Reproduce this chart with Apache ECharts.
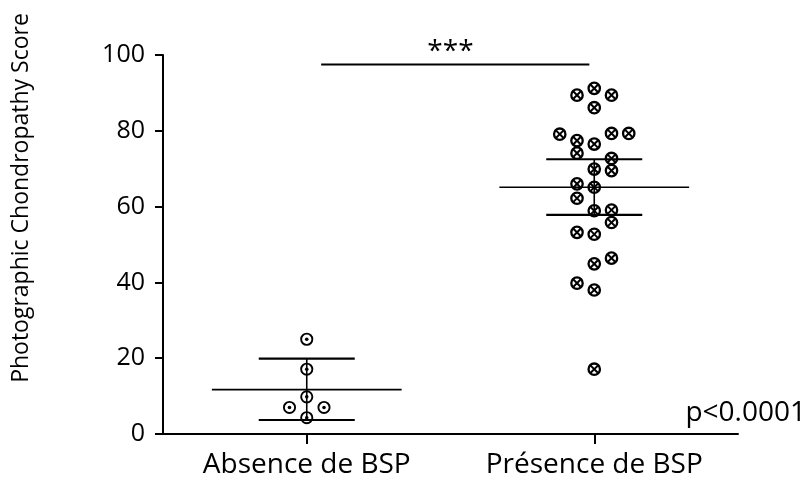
<!DOCTYPE html>
<html>
<head>
<meta charset="utf-8">
<script src="https://cdn.jsdelivr.net/npm/echarts@6/dist/echarts.min.js"></script>
<style>
  html, body { margin: 0; padding: 0; background: #fff; }
  #chart { width: 810px; height: 484px; }
</style>
</head>
<body>
<div id="chart"></div>
<script>
// Group labels on the category axis
const categories = ['Absence de BSP', 'Présence de BSP'];

// Individual scores per group, with the beeswarm column each dot sits in
const absenceScores = [25.0, 17.1, 9.8, 7.0, 7.0, 4.3];
const absenceSlots  = [0, 0, 0, -1, 1, 0];

const presenceScores = [91.2, 89.4, 89.4, 86.1, 79.3, 79.3, 79.1, 77.4, 76.5, 74.1,
                        72.7, 69.9, 69.5, 66.0, 65.1, 62.2, 59.1, 58.9, 55.8, 53.2,
                        52.7, 46.4, 44.9, 39.8, 38.0, 17.1];
const presenceSlots  = [0, -1, 1, 0, 1, 2, -2, -1, 0, -1,
                        1, 0, 1, -1, 0, -1, 1, 0, 1, -1,
                        0, 1, 0, -1, 0, 0];

// Summary lines: mean and 95% confidence interval per group
const groupMeans = [11.7, 65.1];
const groupLower = [3.7, 57.8];
const groupUpper = [19.9, 72.5];

// Y axis ticks
const yTicks = [0, 20, 40, 60, 80, 100];

// Significance annotation
const sigLevel = 97.5;
const sigStars = '***';
const pValueText = 'p<0.0001';

const fontFamily = '"Open Sans", Lato, sans-serif';

function pointData(scores, slots, group) {
  return scores.map((v, i) => [group, v, slots[i]]);
}

const chart = echarts.init(document.getElementById('chart'), null, { renderer: 'canvas' });

const option = {
  animation: false,
  backgroundColor: '#fff',
  grid: { left: 163, right: 72, top: 55, bottom: 50, containLabel: false },
  xAxis: {
    type: 'category',
    data: categories,
    boundaryGap: true,
    axisLine: { lineStyle: { color: '#000', width: 2 } },
    axisTick: { show: true, alignWithLabel: true, length: 10, lineStyle: { color: '#000', width: 2 } },
    axisLabel: { color: '#000', fontSize: 28, fontFamily: fontFamily, margin: 17 },
    splitLine: { show: false }
  },
  yAxis: {
    type: 'value',
    min: yTicks[0],
    max: yTicks[yTicks.length - 1],
    interval: yTicks[1] - yTicks[0],
    axisLine: { show: true, lineStyle: { color: '#000', width: 2 } },
    axisTick: { show: true, length: 8, lineStyle: { color: '#000', width: 2 } },
    axisLabel: { color: '#000', fontSize: 25, fontFamily: fontFamily, margin: 18 },
    splitLine: { show: false }
  },
  graphic: [
    {
      type: 'text',
      x: 21, y: 198,
      rotation: Math.PI / 2,
      style: {
        text: 'Photographic Chondropathy Score',
        fill: '#000',
        font: '23px ' + fontFamily,
        align: 'center',
        verticalAlign: 'middle'
      }
    },
    {
      type: 'text',
      x: 806, y: 413,
      style: {
        text: pValueText,
        fill: '#000',
        font: '28px ' + fontFamily,
        align: 'right',
        verticalAlign: 'middle'
      }
    }
  ],
  series: [
    {
      // mean line + CI whiskers
      type: 'custom',
      coordinateSystem: 'cartesian2d',
      data: categories.map((c, i) => [i, groupMeans[i], groupLower[i], groupUpper[i]]),
      renderItem(params, api) {
        const band = api.size([1, 0])[0];
        const c = api.coord([api.value(0), api.value(1)]);
        const lo = api.coord([api.value(0), api.value(2)]);
        const hi = api.coord([api.value(0), api.value(3)]);
        const mw = band * 0.33, cw = band * 0.167;
        const stroke = { stroke: '#000', lineWidth: 2.2 };
        return {
          type: 'group',
          children: [
            { type: 'line', shape: { x1: c[0] - mw, y1: c[1], x2: c[0] + mw, y2: c[1] }, style: { stroke: '#000', lineWidth: 1.6 } },
            { type: 'line', shape: { x1: c[0] - cw, y1: hi[1], x2: c[0] + cw, y2: hi[1] }, style: stroke },
            { type: 'line', shape: { x1: c[0] - cw, y1: lo[1], x2: c[0] + cw, y2: lo[1] }, style: stroke },
            { type: 'line', shape: { x1: c[0], y1: lo[1], x2: c[0], y2: hi[1] }, style: { stroke: '#000', lineWidth: 1.6 } }
          ]
        };
      },
      z: 2
    },
    {
      // open circles with a center dot
      type: 'custom',
      coordinateSystem: 'cartesian2d',
      data: pointData(absenceScores, absenceSlots, 0),
      renderItem(params, api) {
        const band = api.size([1, 0])[0];
        const p = api.coord([api.value(0), api.value(1)]);
        const x = p[0] + api.value(2) * band * 0.06;
        return {
          type: 'group',
          children: [
            { type: 'circle', shape: { cx: x, cy: p[1], r: 5.6 }, style: { fill: 'none', stroke: '#000', lineWidth: 1.9 } },
            { type: 'circle', shape: { cx: x, cy: p[1], r: 1.8 }, style: { fill: '#000' } }
          ]
        };
      },
      z: 3
    },
    {
      // open circles with a cross
      type: 'custom',
      coordinateSystem: 'cartesian2d',
      data: pointData(presenceScores, presenceSlots, 1),
      renderItem(params, api) {
        const band = api.size([1, 0])[0];
        const p = api.coord([api.value(0), api.value(1)]);
        const x = p[0] + api.value(2) * band * 0.06;
        const y = p[1];
        const d = 3.6;
        const s = { stroke: '#000', lineWidth: 2 };
        return {
          type: 'group',
          children: [
            { type: 'circle', shape: { cx: x, cy: y, r: 5.7 }, style: { fill: 'none', stroke: '#000', lineWidth: 2.3 } },
            { type: 'line', shape: { x1: x - d, y1: y - d, x2: x + d, y2: y + d }, style: s },
            { type: 'line', shape: { x1: x - d, y1: y + d, x2: x + d, y2: y - d }, style: s }
          ]
        };
      },
      z: 3
    },
    {
      // significance bar with stars
      type: 'custom',
      coordinateSystem: 'cartesian2d',
      data: [[0, sigLevel]],
      clip: false,
      renderItem(params, api) {
        const band = api.size([1, 0])[0];
        const a = api.coord([0, api.value(1)]);
        const b = api.coord([1, api.value(1)]);
        const x1 = a[0] + band * 0.05;
        const x2 = b[0] - band * 0.017;
        return {
          type: 'group',
          children: [
            { type: 'line', shape: { x1: x1, y1: a[1], x2: x2, y2: a[1] }, style: { stroke: '#000', lineWidth: 1.8 } },
            { type: 'text', x: (a[0] + b[0]) / 2, y: a[1] - 12,
              style: { text: sigStars, fill: '#000', font: '28px ' + fontFamily, align: 'center', verticalAlign: 'middle' } }
          ]
        };
      },
      z: 3
    }
  ]
};

chart.setOption(option);
</script>
</body>
</html>
